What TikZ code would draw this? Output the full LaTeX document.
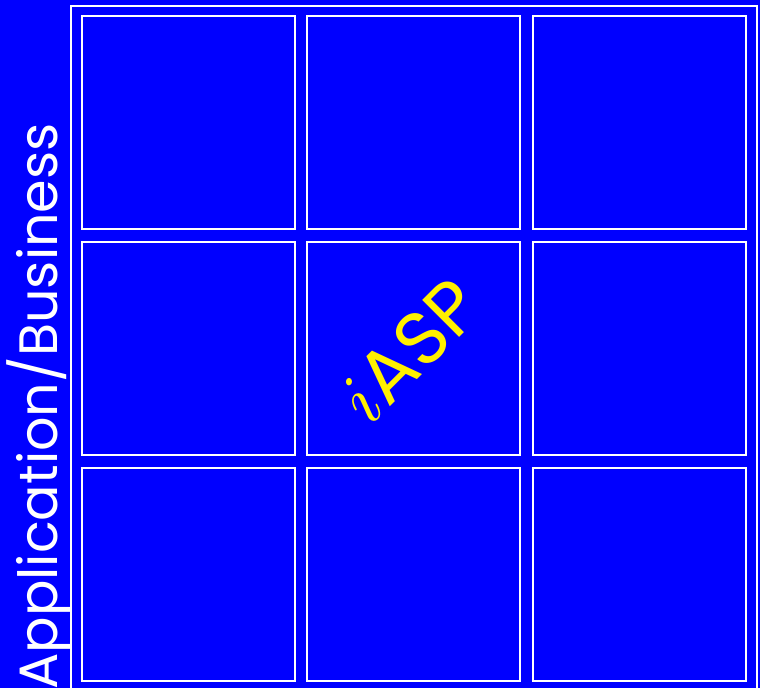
\documentclass[tikz,border=0pt]{standalone}
\usepackage{fontspec}
\usepackage{graphicx}
\newfontfamily\popfont{Poppins}
\definecolor{bgblue}{RGB}{0,0,255}
\definecolor{txtyellow}{RGB}{255,240,0}
\begin{document}
\begin{tikzpicture}[x=1pt,y=1pt,
  cell/.style={draw=white,line width=2pt,minimum width=213pt,minimum height=213pt,inner sep=0pt},
  frame/.style={draw=white,line width=2pt}]
\fill[bgblue] (0,0) rectangle (760,688);
\useasboundingbox (0,0) rectangle (760,688);
\coordinate (fa) at (71,-4);
\coordinate (fb) at (757,682);
\draw[frame] (fa) rectangle (fb);
\foreach \c/\x in {1/188.5,2/413.5,3/639.5}{
  \foreach \r/\y in {1/565.5,2/339.5,3/113.5}{
    \node[cell] (c\r\c) at (\x,\y) {};
  }
}
\node[rotate=90,anchor=base east,text=white,font=\popfont\fontsize{54}{60}\selectfont,inner sep=0pt]
  (lbl) at (57,565) {Application/Business};
\node[rotate=45,text=txtyellow,font=\popfont\fontsize{75}{80}\selectfont,inner sep=0pt]
  (iasp) at ([shift={(-4,-2)}]c22.center) {\scalebox{7.5}{\normalsize$i$}\kern1pt ASP};
\end{tikzpicture}
\end{document}
